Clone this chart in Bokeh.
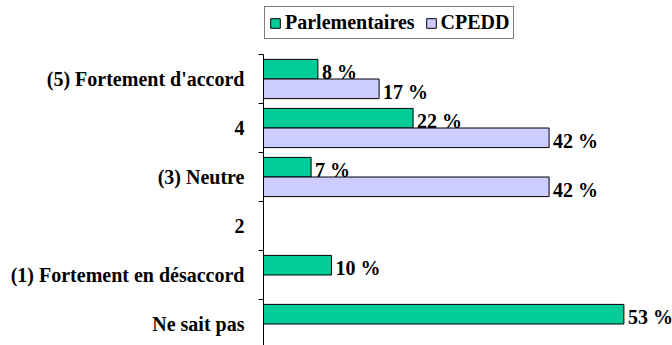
from bokeh.plotting import figure
from bokeh.models import ColumnDataSource, Range1d, FixedTicker, Legend, LegendItem
from bokeh.transform import dodge
from bokeh.core.properties import value
from bokeh.embed import file_html
from bokeh.resources import INLINE

# Survey answers, listed top to bottom
categories = ["(5) Fortement d'accord", "4", "(3) Neutre", "2",
              "(1) Fortement en désaccord", "Ne sait pas"]
parlementaires = [8, 22, 7, None, 10, 53]
cpedd = [17, 42, 42, None, None, None]

series_names = ["Parlementaires", "CPEDD"]
series_colors = ["#00CC99", "#CCCCFF"]

FONT = "Liberation Serif"

n = len(categories)
centers = [n - i - 0.5 for i in range(n)]
bounds = list(range(n + 1))

# vertical scale: 49 px per answer row; extra room on top holds the legend
ROW_PX = 49.0
HEIGHT = 345
TOP_PX = 54
y_end = n + TOP_PX / ROW_PX
y_start = y_end - HEIGHT / ROW_PX


def make_source(vals):
    rows = [(c, v) for c, v in zip(centers, vals) if v is not None]
    return ColumnDataSource(dict(
        y=[r[0] for r in rows],
        value=[r[1] for r in rows],
        label=[f"{r[1]} %" for r in rows],
    ))


p = figure(width=672, height=HEIGHT,
           x_range=Range1d(0, 60.15), y_range=Range1d(y_start, y_end),
           output_backend="svg", toolbar_location=None,
           x_axis_location=None,
           min_border_left=263, min_border_right=0,
           min_border_top=0, min_border_bottom=0)
p.outline_line_color = None
p.xgrid.visible = False
p.ygrid.visible = False
p.background_fill_color = "white"
p.border_fill_color = "white"

series = [(parlementaires, series_names[0], series_colors[0], 0.2),
          (cpedd, series_names[1], series_colors[1], -0.2)]
sources = [make_source(s[0]) for s in series]

# bars first, value labels on top of every bar
items = []
for src, (vals, name, color, off) in zip(sources, series):
    r = p.hbar(y=dodge("y", off), left=0, right="value", height=0.4,
               fill_color=color, line_color="black", line_width=1, source=src)
    items.append(LegendItem(label=name, renderers=[r]))

for src, (vals, name, color, off) in zip(sources, series):
    p.text(x="value", y=dodge("y", off), text="label", source=src,
           x_offset=4, y_offset=3, text_baseline="middle", text_align="left",
           text_font=value(FONT), text_font_style="bold",
           text_font_size="20px", text_color="black")

yaxis = p.yaxis[0]
yaxis.bounds = (0, n)
yaxis.ticker = FixedTicker(ticks=centers, minor_ticks=bounds)
yaxis.major_label_overrides = {c: lab for c, lab in zip(centers, categories)}
yaxis.major_tick_out = 0
yaxis.major_tick_in = 0
yaxis.minor_tick_out = 5
yaxis.minor_tick_in = 0
yaxis.minor_tick_line_color = "black"
yaxis.axis_line_color = "black"
yaxis.major_label_standoff = 14
yaxis.major_label_text_font = FONT
yaxis.major_label_text_font_style = "bold"
yaxis.major_label_text_font_size = "20px"
yaxis.major_label_text_color = "black"

legend = Legend(items=items, orientation="horizontal", location=(1, HEIGHT - 39),
                border_line_color="black", border_line_width=1,
                background_fill_color="white", background_fill_alpha=1,
                glyph_width=12, glyph_height=12, label_standoff=4, spacing=10,
                padding=4, margin=0,
                label_text_font=FONT, label_text_font_style="bold",
                label_text_font_size="20px", label_text_color="black")
p.add_layout(legend)

open("out.html", "w").write(file_html(p, INLINE))
